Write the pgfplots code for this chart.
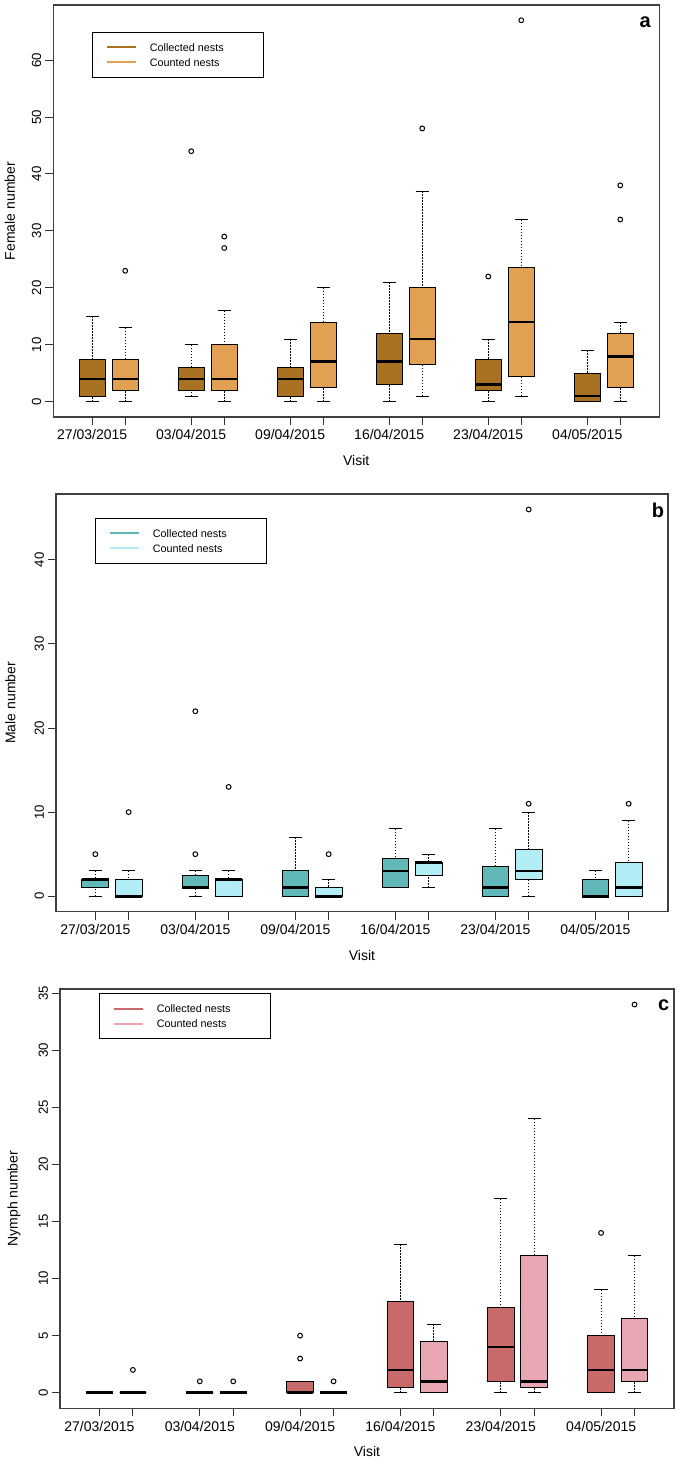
\documentclass[border=0pt]{standalone}
\usepackage{fontspec}
\setmainfont{Liberation Sans}
\usepackage{pgfplots}
\pgfplotsset{compat=1.18}
\usepgfplotslibrary{statistics}
\definecolor{cA1}{RGB}{168,114,34}
\definecolor{cA2}{RGB}{226,160,82}
\definecolor{cB1}{RGB}{96,184,184}
\definecolor{cB2}{RGB}{178,236,244}
\definecolor{cC1}{RGB}{201,106,106}
\definecolor{cC2}{RGB}{231,166,178}
\pgfplotsset{
  rbox/.style={
    forget plot,
    boxplot/draw direction=y,
    boxplot/box extend=0.8,
    boxplot/whisker extend=0.4,
    boxplot/every box/.style={draw=black, line width=0.5pt, fill=#1},
    boxplot/every median/.style={draw=black, line width=1.4pt},
    boxplot/every whisker/.style={draw=black, line width=0.5pt},
    boxplot/draw/lower whisker/.code={%
      \draw[/pgfplots/boxplot/every whisker/.try, dash pattern=on 0.75pt off 0.75pt]
        (boxplot cs:\pgfplotsboxplotvalue{lower whisker}) -- (boxplot cs:\pgfplotsboxplotvalue{lower quartile});
      \draw[/pgfplots/boxplot/every whisker/.try, solid]
        (boxplot whisker cs:\pgfplotsboxplotvalue{lower whisker},0) -- (boxplot whisker cs:\pgfplotsboxplotvalue{lower whisker},1);
    },
    boxplot/draw/upper whisker/.code={%
      \draw[/pgfplots/boxplot/every whisker/.try, dash pattern=on 0.75pt off 0.75pt]
        (boxplot cs:\pgfplotsboxplotvalue{upper whisker}) -- (boxplot cs:\pgfplotsboxplotvalue{upper quartile});
      \draw[/pgfplots/boxplot/every whisker/.try, solid]
        (boxplot whisker cs:\pgfplotsboxplotvalue{upper whisker},0) -- (boxplot whisker cs:\pgfplotsboxplotvalue{upper whisker},1);
    },
    mark=o, mark size=1.2pt, mark options={solid, draw=black, line width=0.5pt, fill=none},
  },
  panel/.style={
    scale only axis, anchor=south west,
    xmin=-0.18, xmax=18.18,
    xtick={1,2,4,5,7,8,10,11,13,14,16,17},
    xticklabels={27/03/2015,{},03/04/2015,{},09/04/2015,{},16/04/2015,{},23/04/2015,{},04/05/2015,{}},
    tick pos=left, tick align=outside, major tick length=4pt,
    tick style={black!80, line width=0.5pt},
    axis line style={black!75, line width=0.6pt},
    xticklabel style={font=\fontsize{7}{8}\selectfont, anchor=north, inner sep=0pt},
    xticklabel shift=2.2pt,
    yticklabel style={font=\fontsize{6.6}{8}\selectfont, rotate=90, anchor=south, inner sep=0pt},
    yticklabel shift=1.8pt,
    /pgf/number format/assume math mode=true,
    xlabel={Visit},
    label style={font=\fontsize{7}{8}\selectfont},
    legend cell align=left,
    legend style={anchor=north west, draw=black, line width=0.5pt, fill=white,
      inner xsep=6.5pt, inner ysep=3.75pt, row sep=0pt, column sep=6.5pt,
      cells={anchor=west}, nodes={inner sep=0pt, text height=5.65pt, text depth=1.85pt},
      font=\fontsize{5.4}{6}\selectfont},
    legend image code/.code={\draw[#1, line width=1pt] (0pt,0pt) -- (14.5pt,0pt);},
  }
}
\newcommand{\bx}[7]{\addplot[rbox={#7}, boxplot prepared={draw position=#1, lower whisker=#2, lower quartile=#3, median=#4, upper quartile=#5, upper whisker=#6}] coordinates {};}
\newcommand{\bxo}[8]{\addplot[rbox={#7}, boxplot prepared={draw position=#1, lower whisker=#2, lower quartile=#3, median=#4, upper quartile=#5, upper whisker=#6}] table[row sep=\\, y index=0] {v\\ #8};}
\begin{document}
\begin{tikzpicture}
\path[use as bounding box] (0pt,0pt) rectangle (340pt,733.5pt);
% ---------------- panel a
\begin{axis}[panel, at={(26.65pt,525pt)}, width=302.95pt, height=206pt,
  ymin=-2.68, ymax=69.68, ytick={0,10,20,30,40,50,60},
  ylabel={Female number},
  ylabel style={at={(axis description cs:-0.0718,0.5)}, anchor=center},
  xlabel style={at={(axis description cs:0.5,-0.106)}, anchor=center},
  legend style={at={(0.0645,0.935)}}]
\bx{1}{0}{1}{4}{7.5}{15}{cA1}
\bxo{2}{0}{2}{4}{7.5}{13}{cA2}{23\\}
\bxo{4}{1}{2}{4}{6}{10}{cA1}{44\\}
\bxo{5}{0}{2}{4}{10}{16}{cA2}{27\\ 29\\}
\bx{7}{0}{1}{4}{6}{11}{cA1}
\bx{8}{0}{2.5}{7}{14}{20}{cA2}
\bx{10}{0}{3}{7}{12}{21}{cA1}
\bxo{11}{1}{6.5}{11}{20}{37}{cA2}{48\\}
\bxo{13}{0}{2}{3}{7.5}{11}{cA1}{22\\}
\bxo{14}{1}{4.5}{14}{23.5}{32}{cA2}{67\\}
\bx{16}{0}{0}{1}{5}{9}{cA1}
\bxo{17}{0}{2.5}{8}{12}{14}{cA2}{32\\ 38\\}
\addlegendimage{cA1}\addlegendentry{\makebox[50.5pt][l]{Collected nests}}
\addlegendimage{cA2}\addlegendentry{\makebox[50.5pt][l]{Counted nests}}
\node[font=\bfseries\fontsize{10}{12}\selectfont] at (axis description cs:0.977,0.959) {a};
\end{axis}
% ---------------- panel b
\begin{axis}[panel, at={(28pt,277.65pt)}, width=306pt, height=208.85pt,
  ymin=-1.84, ymax=47.84, ytick={0,10,20,30,40},
  ylabel={Male number},
  ylabel style={at={(axis description cs:-0.0745,0.5)}, anchor=center},
  xlabel style={at={(axis description cs:0.5,-0.1037)}, anchor=center},
  legend style={at={(0.0644,0.943)}}]
\bxo{1}{0}{1}{2}{2}{3}{cB1}{5\\}
\bxo{2}{0}{0}{0}{2}{3}{cB2}{10\\}
\bxo{4}{0}{1}{1}{2.5}{3}{cB1}{5\\ 22\\}
\bxo{5}{0}{0}{2}{2}{3}{cB2}{13\\}
\bx{7}{0}{0}{1}{3}{7}{cB1}
\bxo{8}{0}{0}{0}{1}{2}{cB2}{5\\}
\bx{10}{1}{1}{3}{4.5}{8}{cB1}
\bx{11}{1}{2.5}{4}{4}{5}{cB2}
\bx{13}{0}{0}{1}{3.5}{8}{cB1}
\bxo{14}{0}{2}{3}{5.5}{10}{cB2}{11\\ 46\\}
\bx{16}{0}{0}{0}{2}{3}{cB1}
\bxo{17}{0}{0}{1}{4}{9}{cB2}{11\\}
\addlegendimage{cB1}\addlegendentry{\makebox[50.5pt][l]{Collected nests}}
\addlegendimage{cB2}\addlegendentry{\makebox[50.5pt][l]{Counted nests}}
\node[font=\bfseries\fontsize{10}{12}\selectfont] at (axis description cs:0.9835,0.962) {b};
\end{axis}
% ---------------- panel c
\begin{axis}[panel, at={(30pt,29.35pt)}, width=307pt, height=209.65pt,
  ymin=-1.36, ymax=35.36, ytick={0,5,10,15,20,25,30,35},
  ylabel={Nymph number},
  ylabel style={at={(axis description cs:-0.0748,0.5)}, anchor=center},
  xlabel style={at={(axis description cs:0.5,-0.102)}, anchor=center},
  legend style={at={(0.064,0.9897)}}]
\bx{1}{0}{0}{0}{0}{0}{cC1}
\bxo{2}{0}{0}{0}{0}{0}{cC2}{2\\}
\bxo{4}{0}{0}{0}{0}{0}{cC1}{1\\}
\bxo{5}{0}{0}{0}{0}{0}{cC2}{1\\}
\bxo{7}{0}{0}{0}{1}{1}{cC1}{3\\ 5\\}
\bxo{8}{0}{0}{0}{0}{0}{cC2}{1\\}
\bx{10}{0}{0.5}{2}{8}{13}{cC1}
\bx{11}{0}{0}{1}{4.5}{6}{cC2}
\bx{13}{0}{1}{4}{7.5}{17}{cC1}
\bx{14}{0}{0.5}{1}{12}{24}{cC2}
\bxo{16}{0}{0}{2}{5}{9}{cC1}{14\\}
\bxo{17}{0}{1}{2}{6.5}{12}{cC2}{34\\}
\addlegendimage{cC1}\addlegendentry{\makebox[50.5pt][l]{Collected nests}}
\addlegendimage{cC2}\addlegendentry{\makebox[50.5pt][l]{Counted nests}}
\node[font=\bfseries\fontsize{10}{12}\selectfont] at (axis description cs:0.983,0.962) {c};
\end{axis}
\end{tikzpicture}
\end{document}
